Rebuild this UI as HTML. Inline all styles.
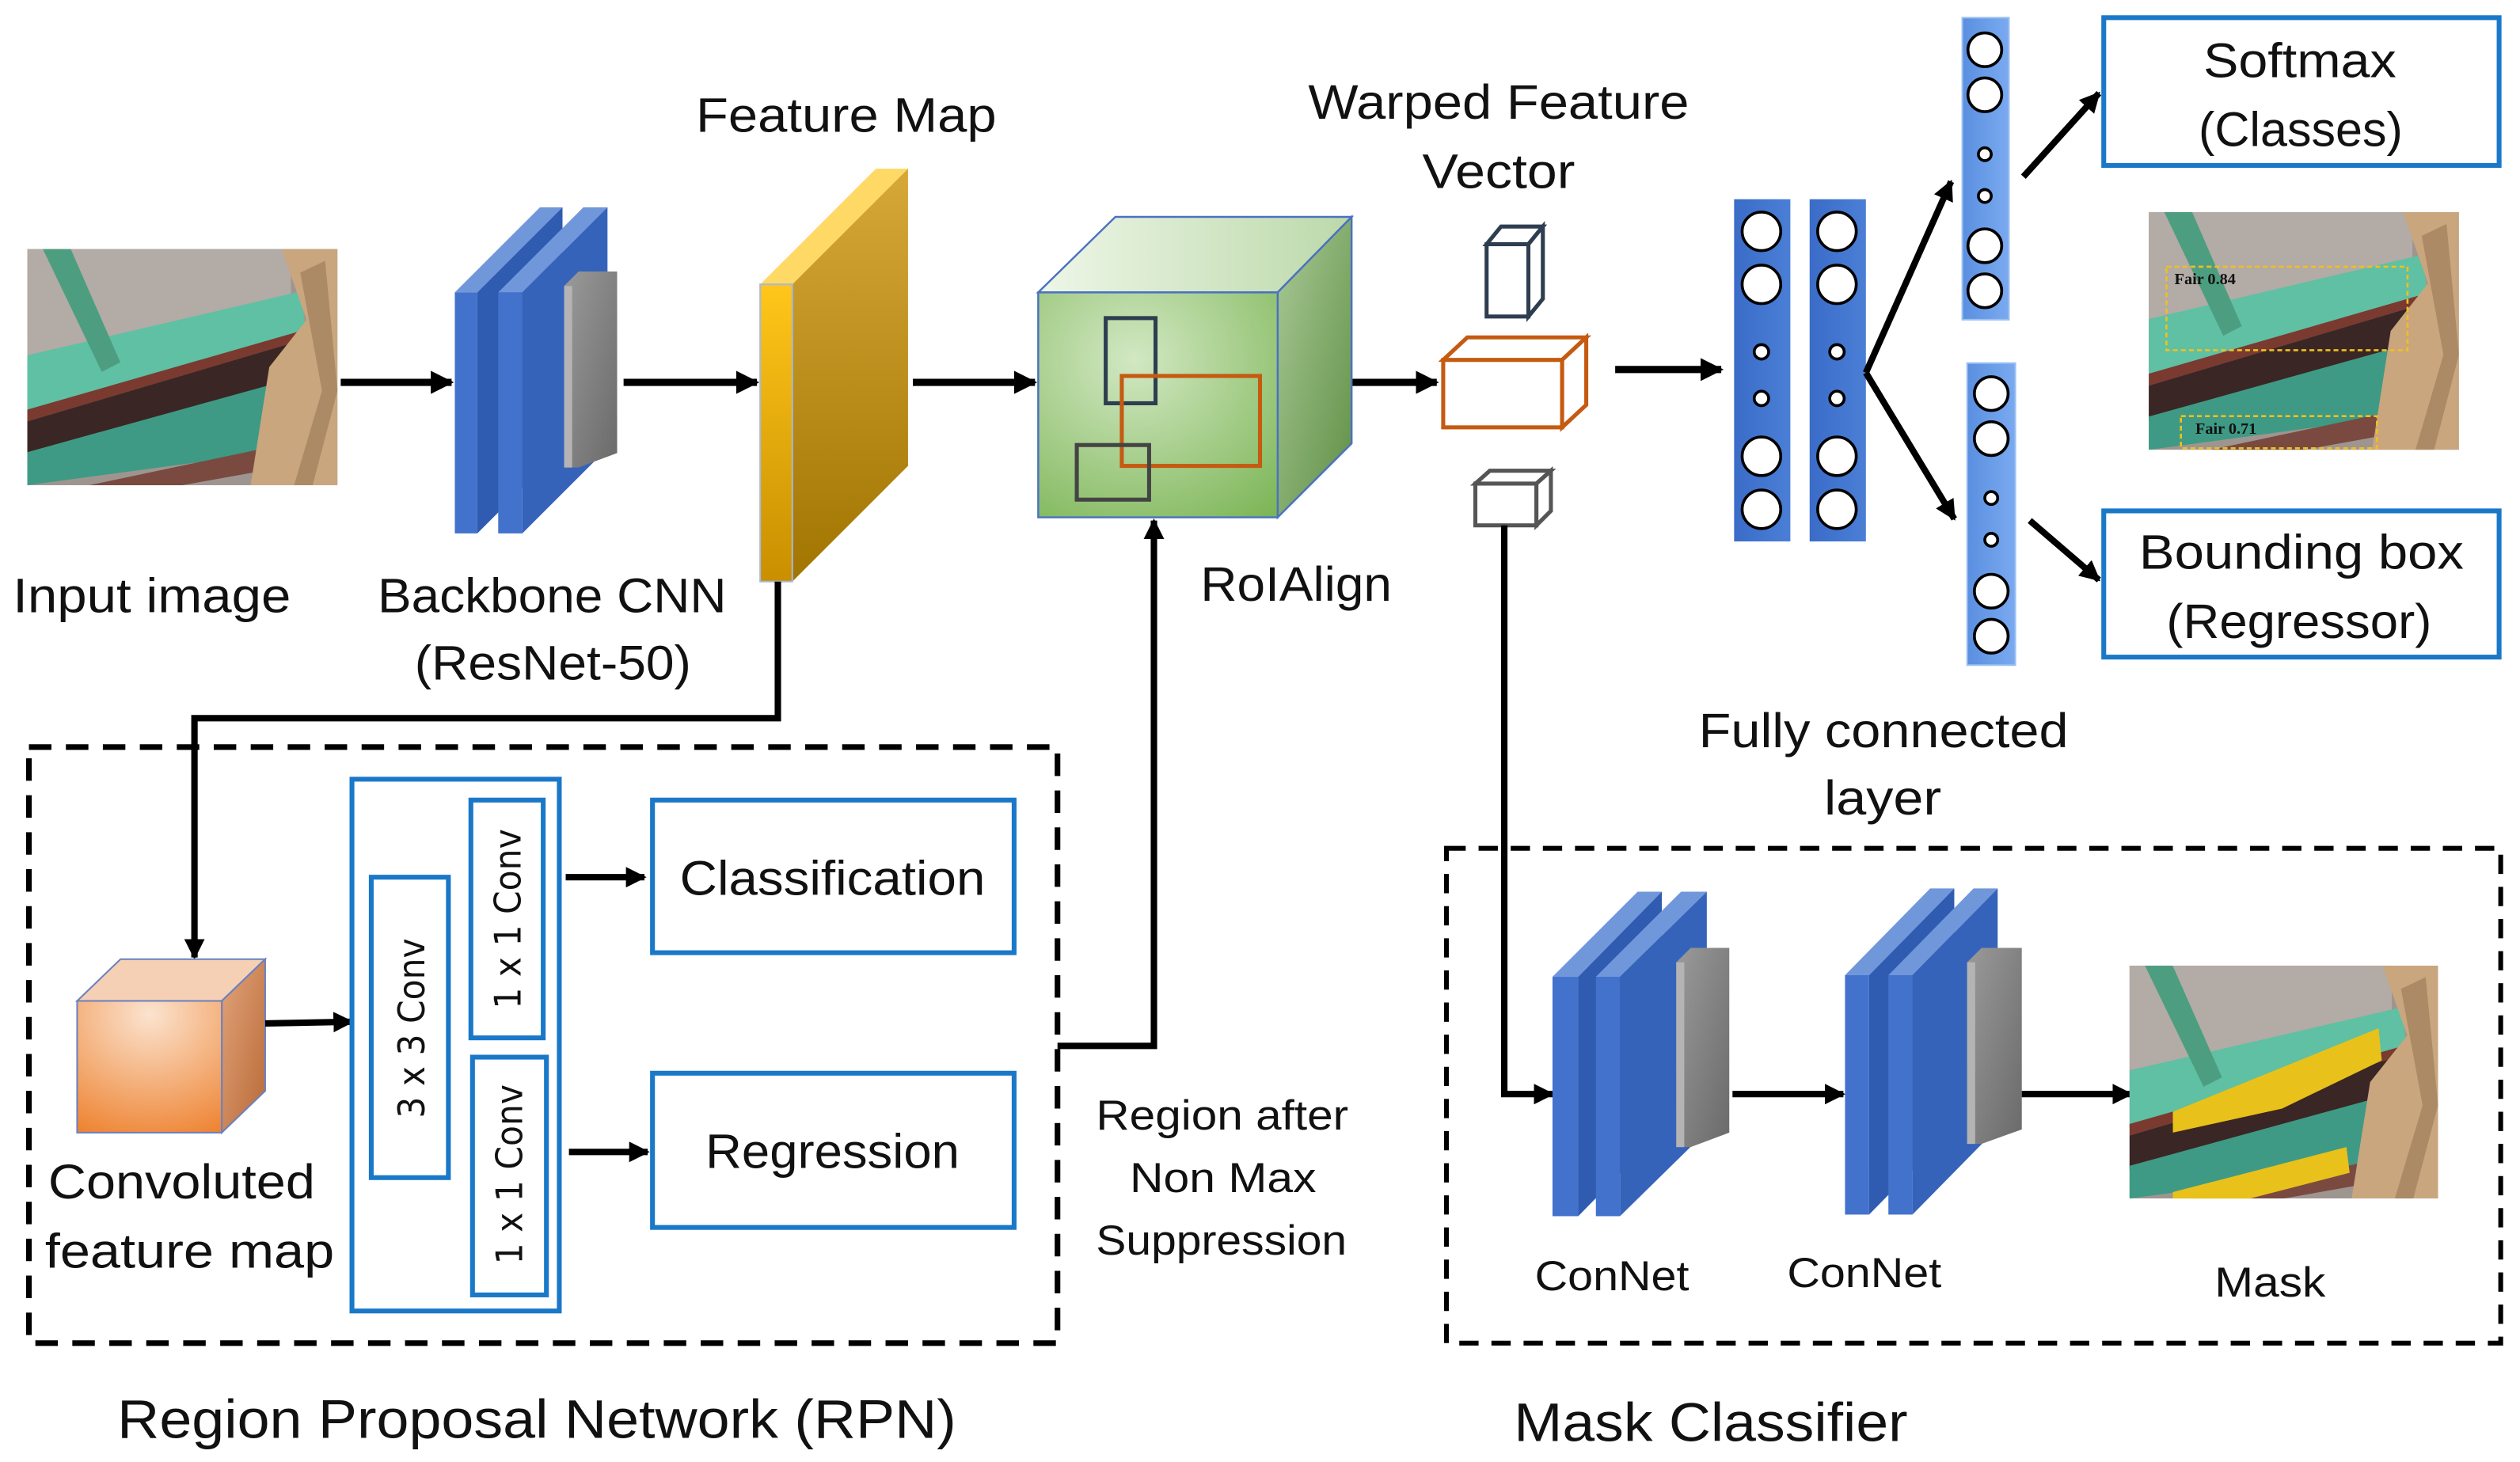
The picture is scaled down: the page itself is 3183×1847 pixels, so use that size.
<!DOCTYPE html>
<html><head><meta charset="utf-8"><style>
html,body{margin:0;padding:0;background:#fff;}
svg{display:block;}
text{font-family:"Liberation Sans",sans-serif;fill:#111;}
</style></head><body>
<svg width="3183" height="1847" viewBox="0 0 1568 910" preserveAspectRatio="none" xmlns="http://www.w3.org/2000/svg">
<defs>
<marker id="ah" viewBox="0 0 10 10" refX="9" refY="5" markerWidth="3.2" markerHeight="3.2" orient="auto" markerUnits="strokeWidth"><path d="M0,0 L10,5 L0,10 z" fill="#000"/></marker>
<linearGradient id="fmF" x1="0" y1="0" x2="0" y2="1"><stop offset="0" stop-color="#ffc61a"/><stop offset="1" stop-color="#c98f00"/></linearGradient>
<linearGradient id="fmS" x1="0" y1="0" x2="0" y2="1"><stop offset="0" stop-color="#d6a838"/><stop offset="1" stop-color="#a27400"/></linearGradient>
<radialGradient id="gF" cx="0.4" cy="0.3" r="0.9"><stop offset="0" stop-color="#d2e8c3"/><stop offset="1" stop-color="#7cb556"/></radialGradient>
<linearGradient id="gS" x1="0" y1="0" x2="1" y2="1"><stop offset="0" stop-color="#a9c996"/><stop offset="1" stop-color="#5f8f45"/></linearGradient>
<linearGradient id="gT" x1="0" y1="0" x2="1" y2="0"><stop offset="0" stop-color="#eef6e8"/><stop offset="1" stop-color="#bcd9aa"/></linearGradient>
<radialGradient id="oF" cx="0.5" cy="0.1" r="1"><stop offset="0" stop-color="#fbe3cf"/><stop offset="1" stop-color="#ee8433"/></radialGradient>
<linearGradient id="oS" x1="0" y1="0" x2="1" y2="1"><stop offset="0" stop-color="#e2a37a"/><stop offset="1" stop-color="#b86a37"/></linearGradient>
<linearGradient id="gray" x1="0" y1="0" x2="1" y2="1"><stop offset="0" stop-color="#9a9a9a"/><stop offset="1" stop-color="#6a6a6a"/></linearGradient>
<linearGradient id="blu" x1="0" y1="0" x2="0" y2="1"><stop offset="0" stop-color="#4a78cf"/><stop offset="1" stop-color="#2e5bb3"/></linearGradient>
<linearGradient id="col" x1="0" y1="0" x2="1" y2="0"><stop offset="0" stop-color="#3a6cc8"/><stop offset="1" stop-color="#4b7fd6"/></linearGradient>
<linearGradient id="col2" x1="0" y1="0" x2="1" y2="0"><stop offset="0" stop-color="#5a8fe0"/><stop offset="1" stop-color="#7aaaf0"/></linearGradient>
<symbol id="photo" viewBox="0 0 100 100" preserveAspectRatio="none">
<rect width="100" height="100" fill="#9e9590"/>
<polygon points="0,0 85,0 85,20 0,45" fill="#b3aba6"/>
<polygon points="0,45 88,18 90,35 0,70" fill="#5fc0a3"/>
<polygon points="5,0 14,0 30,48 24,52" fill="#4d9e80"/>
<polygon points="0,68 90,34 90,38 0,73" fill="#7a3a30"/>
<polygon points="0,73 90,38 88,56 0,88" fill="#3a2624"/>
<polygon points="0,86 88,54 85,85 0,100" fill="#3e9a84"/>
<polygon points="20,100 85,82 84,92 50,100" fill="#7a4a40"/>
<polygon points="82,0 100,0 100,100 72,100 78,50 90,30" fill="#c9a67e"/>
<polygon points="88,10 96,5 100,60 92,100 86,100 95,60" fill="#ad8a66"/>
</symbol>
</defs>

<!-- Input image -->
<use href="#photo" x="17" y="155" width="193" height="147"/>

<!-- Arrows top row -->
<g stroke="#000" stroke-width="4.5" fill="none">
<line x1="212" y1="238" x2="281" y2="238" marker-end="url(#ah)"/>
<line x1="388" y1="238" x2="471" y2="238" marker-end="url(#ah)"/>
<line x1="568" y1="238" x2="644" y2="238" marker-end="url(#ah)"/>
<line x1="840" y1="238" x2="894" y2="238" marker-end="url(#ah)"/>
<line x1="1005" y1="230" x2="1071" y2="230" marker-end="url(#ah)"/>
</g>

<!-- Backbone CNN -->
<g>
<polygon points="283,182 336,129 350,129 297,182" fill="#7197db"/>
<polygon points="297,182 350,129 350,279 297,332" fill="#2f5cb0"/>
<rect x="283" y="182" width="14" height="150" fill="#4272cc"/>
<polygon points="310,182 363,129 378,129 325,182" fill="#7197db"/>
<polygon points="325,182 378,129 378,279 325,332" fill="#3563ba"/>
<rect x="310" y="182" width="15" height="150" fill="#4272cc"/>
<polygon points="351,178 360,169 384,169 384,282 360,291 351,291" fill="url(#gray)"/>
<rect x="351" y="178" width="5" height="113" fill="#b4b4b4"/>
</g>

<!-- Feature map -->
<polygon points="473,177 545,105 565,105 493,177" fill="#ffd966"/>
<polygon points="493,177 565,105 565,290 493,362" fill="url(#fmS)"/>
<rect x="473" y="177" width="20" height="185" fill="url(#fmF)" stroke="#a8b8d8" stroke-width="1"/>

<!-- Green cube -->
<polygon points="646,182 694,135 841,135 795,182" fill="url(#gT)" stroke="#4a72c0" stroke-width="1.2"/>
<polygon points="795,182 841,135 841,276 795,322" fill="url(#gS)" stroke="#4a72c0" stroke-width="1.2"/>
<rect x="646" y="182" width="149" height="140" fill="url(#gF)" stroke="#4a72c0" stroke-width="1.2"/>
<rect x="688" y="198" width="31" height="53" fill="none" stroke="#2e3e50" stroke-width="2.5"/>
<rect x="698" y="234" width="86" height="56" fill="none" stroke="#c55a11" stroke-width="2.5"/>
<rect x="670" y="277" width="45" height="34" fill="none" stroke="#444" stroke-width="2.5"/>

<!-- small cubes -->
<g fill="#fff" stroke-width="2.5">
<g stroke="#2e3e50"><rect x="925" y="152" width="26" height="45"/><polygon points="925,152 934,141 960,141 951,152"/><polygon points="951,152 960,141 960,186 951,197"/></g>
<g stroke="#c55a11"><rect x="898" y="224" width="74" height="42"/><polygon points="898,224 913,210 987,210 972,224"/><polygon points="972,224 987,210 987,252 972,266"/></g>
<g stroke="#555"><rect x="918" y="301" width="38" height="26"/><polygon points="918,301 927,293 965,293 956,301"/><polygon points="956,301 965,293 965,318 956,327"/></g>
</g>

<!-- FC columns -->
<rect x="1079" y="124" width="35" height="213" fill="url(#col)"/>
<rect x="1126" y="124" width="35" height="213" fill="url(#col)"/>
<rect x="1221" y="11" width="29" height="188" fill="url(#col2)" stroke="#9cc0f0"/>
<rect x="1224" y="226" width="30" height="188" fill="url(#col2)" stroke="#9cc0f0"/>
<g fill="#fff" stroke="#000" stroke-width="1.8">
<circle cx="1096" cy="144" r="12"/><circle cx="1096" cy="177" r="12"/><circle cx="1096" cy="219" r="4.5"/><circle cx="1096" cy="248" r="4.5"/><circle cx="1096" cy="284" r="12"/><circle cx="1096" cy="317" r="12"/>
<circle cx="1143" cy="144" r="12"/><circle cx="1143" cy="177" r="12"/><circle cx="1143" cy="219" r="4.5"/><circle cx="1143" cy="248" r="4.5"/><circle cx="1143" cy="284" r="12"/><circle cx="1143" cy="317" r="12"/>
<circle cx="1235" cy="31" r="10.5"/><circle cx="1235" cy="59" r="10.5"/><circle cx="1235" cy="96" r="4"/><circle cx="1235" cy="122" r="4"/><circle cx="1235" cy="153" r="10.5"/><circle cx="1235" cy="181" r="10.5"/>
<circle cx="1239" cy="245" r="10.5"/><circle cx="1239" cy="273" r="10.5"/><circle cx="1239" cy="310" r="4"/><circle cx="1239" cy="336" r="4"/><circle cx="1239" cy="368" r="10.5"/><circle cx="1239" cy="396" r="10.5"/>
</g>
<g stroke="#000" stroke-width="4" fill="none">
<line x1="1161" y1="232" x2="1214" y2="113" marker-end="url(#ah)"/>
<line x1="1161" y1="232" x2="1216" y2="323" marker-end="url(#ah)"/>
<line x1="1259" y1="110" x2="1306" y2="58" marker-end="url(#ah)"/>
<line x1="1263" y1="324" x2="1306" y2="361" marker-end="url(#ah)"/>
</g>

<!-- Softmax / bbox -->
<rect x="1309" y="11" width="246" height="92" fill="#fff" stroke="#1a78c8" stroke-width="3"/>
<rect x="1309" y="318" width="246" height="91" fill="#fff" stroke="#1a78c8" stroke-width="3"/>
<use href="#photo" x="1337" y="132" width="193" height="148"/>
<rect x="1348" y="166" width="150" height="52" fill="none" stroke="#f0c020" stroke-width="1.3" stroke-dasharray="3,2"/>
<rect x="1357" y="259" width="122" height="20" fill="none" stroke="#f0c020" stroke-width="1.3" stroke-dasharray="3,2"/>
<text x="1353" y="177" style="font-family:'Liberation Serif',serif;font-size:10px;font-weight:bold">Fair 0.84</text>
<text x="1366" y="270" style="font-family:'Liberation Serif',serif;font-size:10px;font-weight:bold">Fair 0.71</text>

<!-- line from warped vector down to mask -->
<polyline points="936,327 936,681 966,681" stroke="#000" stroke-width="4" fill="none" marker-end="url(#ah)"/>

<!-- RPN -->
<rect x="18" y="465" width="640" height="371" fill="none" stroke="#000" stroke-width="3.5" stroke-dasharray="14,9"/>
<polyline points="484,362 484,447 121,447 121,596" stroke="#000" stroke-width="4" fill="none" marker-end="url(#ah)"/>
<polygon points="48,623 75,597 165,597 138,623" fill="#f6d0b4" stroke="#6a80c0" stroke-width="1"/>
<polygon points="138,623 165,597 165,679 138,705" fill="url(#oS)" stroke="#6a80c0" stroke-width="1"/>
<rect x="48" y="623" width="90" height="82" fill="url(#oF)" stroke="#6a80c0" stroke-width="1"/>
<line x1="165" y1="637" x2="219" y2="636" stroke="#000" stroke-width="4" marker-end="url(#ah)"/>
<rect x="219" y="485" width="129" height="331" fill="none" stroke="#1a78c8" stroke-width="3"/>
<rect x="231" y="546" width="48" height="187" fill="none" stroke="#1a78c8" stroke-width="3"/>
<rect x="293" y="498" width="45" height="148" fill="none" stroke="#1a78c8" stroke-width="3"/>
<rect x="294" y="658" width="46" height="148" fill="none" stroke="#1a78c8" stroke-width="3"/>
<text transform="translate(264,640) rotate(-90)" text-anchor="middle" style="font-family:'DejaVu Sans',sans-serif;font-size:23px" textLength="112" lengthAdjust="spacingAndGlyphs">3 x 3 Conv</text>
<text transform="translate(324,572) rotate(-90)" text-anchor="middle" style="font-family:'DejaVu Sans',sans-serif;font-size:23px" textLength="112" lengthAdjust="spacingAndGlyphs">1 x 1 Conv</text>
<text transform="translate(325,731) rotate(-90)" text-anchor="middle" style="font-family:'DejaVu Sans',sans-serif;font-size:23px" textLength="112" lengthAdjust="spacingAndGlyphs">1 x 1 Conv</text>
<line x1="352" y1="546" x2="401" y2="546" stroke="#000" stroke-width="4" marker-end="url(#ah)"/>
<line x1="354" y1="717" x2="403" y2="717" stroke="#000" stroke-width="4" marker-end="url(#ah)"/>
<rect x="406" y="498" width="225" height="95" fill="none" stroke="#1a78c8" stroke-width="3"/>
<rect x="406" y="668" width="225" height="96" fill="none" stroke="#1a78c8" stroke-width="3"/>
<polyline points="658,651 718,651 718,324" stroke="#000" stroke-width="4" fill="none" marker-end="url(#ah)"/>

<!-- Mask classifier -->
<rect x="900" y="528" width="656" height="308" fill="none" stroke="#000" stroke-width="3" stroke-dasharray="12,8"/>
<g>
<polygon points="966,608 1019,555 1034,555 982,608" fill="#7197db"/>
<polygon points="982,608 1034,555 1034,704 982,757" fill="#2f5cb0"/>
<rect x="966" y="608" width="16" height="149" fill="#4272cc"/>
<polygon points="993,608 1046,555 1062,555 1008,608" fill="#7197db"/>
<polygon points="1008,608 1062,555 1062,704 1008,757" fill="#3563ba"/>
<rect x="993" y="608" width="15" height="149" fill="#4272cc"/>
<polygon points="1043,599 1052,590 1076,590 1076,705 1052,714 1043,714" fill="url(#gray)"/>
<rect x="1043" y="599" width="5" height="115" fill="#b4b4b4"/>
</g>
<g>
<polygon points="1148,607 1201,553 1216,553 1163,607" fill="#7197db"/>
<polygon points="1163,607 1216,553 1216,702 1163,756" fill="#2f5cb0"/>
<rect x="1148" y="607" width="15" height="149" fill="#4272cc"/>
<polygon points="1175,607 1228,553 1243,553 1190,607" fill="#7197db"/>
<polygon points="1190,607 1243,553 1243,702 1190,756" fill="#3563ba"/>
<rect x="1175" y="607" width="15" height="149" fill="#4272cc"/>
<polygon points="1224,599 1233,590 1258,590 1258,703 1233,712 1224,712" fill="url(#gray)"/>
<rect x="1224" y="599" width="5" height="113" fill="#b4b4b4"/>
</g>
<line x1="1078" y1="681" x2="1147" y2="681" stroke="#000" stroke-width="4" marker-end="url(#ah)"/>
<line x1="1258" y1="681" x2="1326" y2="681" stroke="#000" stroke-width="4" marker-end="url(#ah)"/>
<use href="#photo" x="1325" y="601" width="192" height="145"/>
<polygon points="1352,692 1480,640 1482,660 1420,690 1352,705" fill="#e8c11a"/>
<polygon points="1352,742 1460,714 1462,730 1400,746 1352,746" fill="#e8c11a"/>

<!-- Labels -->
<g style="font-size:30px">
<text x="433" y="82" textLength="187" lengthAdjust="spacingAndGlyphs">Feature Map</text>
<text x="8" y="381" textLength="173" lengthAdjust="spacingAndGlyphs">Input image</text>
<text x="235" y="381" textLength="217" lengthAdjust="spacingAndGlyphs">Backbone CNN</text>
<text x="258" y="423" textLength="172" lengthAdjust="spacingAndGlyphs">(ResNet-50)</text>
<text x="747" y="374" textLength="119" lengthAdjust="spacingAndGlyphs">RoIAlign</text>
<text x="814" y="74" textLength="237" lengthAdjust="spacingAndGlyphs">Warped Feature</text>
<text x="885" y="117" textLength="95" lengthAdjust="spacingAndGlyphs">Vector</text>
<text x="1371" y="48" textLength="120" lengthAdjust="spacingAndGlyphs">Softmax</text>
<text x="1368" y="91" textLength="127" lengthAdjust="spacingAndGlyphs">(Classes)</text>
<text x="1331" y="354" textLength="202" lengthAdjust="spacingAndGlyphs">Bounding box</text>
<text x="1348" y="397" textLength="165" lengthAdjust="spacingAndGlyphs">(Regressor)</text>
<text x="1057" y="465" textLength="230" lengthAdjust="spacingAndGlyphs">Fully connected</text>
<text x="1135" y="507" textLength="73" lengthAdjust="spacingAndGlyphs">layer</text>
<text x="423" y="557" textLength="190" lengthAdjust="spacingAndGlyphs">Classification</text>
<text x="439" y="727" textLength="158" lengthAdjust="spacingAndGlyphs">Regression</text>
<text x="30" y="746" textLength="166" lengthAdjust="spacingAndGlyphs">Convoluted</text>
<text x="28" y="789" textLength="180" lengthAdjust="spacingAndGlyphs">feature map</text>
<text x="73" y="895" style="font-size:34px" textLength="522" lengthAdjust="spacingAndGlyphs">Region Proposal Network (RPN)</text>
<text x="942" y="897" style="font-size:34px" textLength="245" lengthAdjust="spacingAndGlyphs">Mask Classifier</text>
</g>
<g style="font-size:26px">
<text x="682" y="703" textLength="157" lengthAdjust="spacingAndGlyphs">Region after</text>
<text x="703" y="742" textLength="116" lengthAdjust="spacingAndGlyphs">Non Max</text>
<text x="682" y="781" textLength="156" lengthAdjust="spacingAndGlyphs">Suppression</text>
<text x="955" y="803" textLength="96" lengthAdjust="spacingAndGlyphs">ConNet</text>
<text x="1112" y="801" textLength="96" lengthAdjust="spacingAndGlyphs">ConNet</text>
<text x="1378" y="807" textLength="69" lengthAdjust="spacingAndGlyphs">Mask</text>
</g>
</svg>
</body></html>
